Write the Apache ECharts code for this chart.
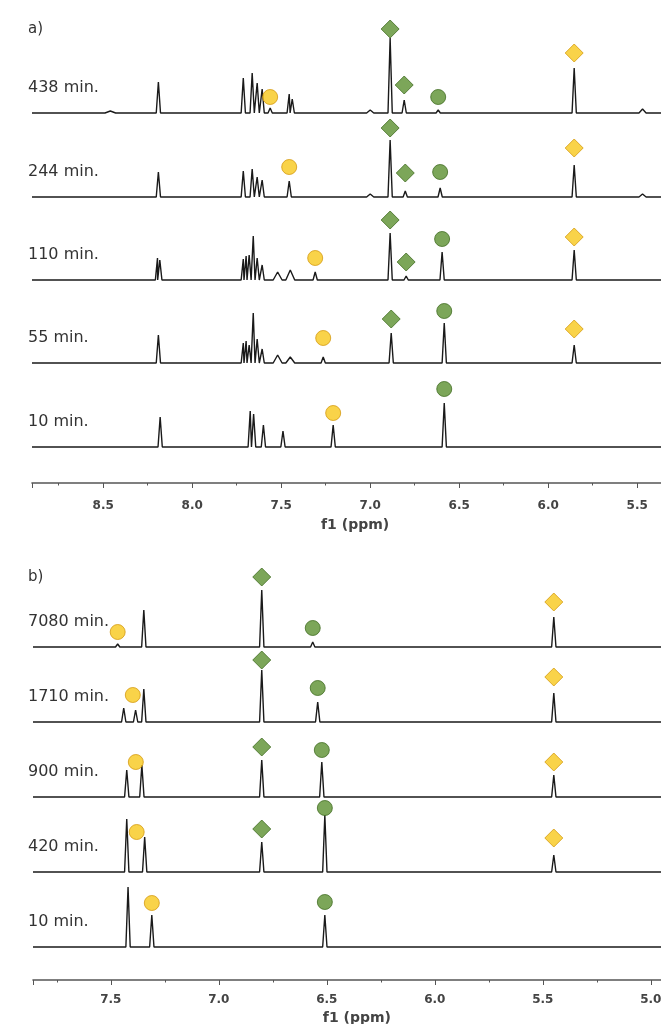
<!DOCTYPE html>
<html>
<head>
<meta charset="utf-8">
<title>1H NMR time series</title>
<script src="https://cdn.jsdelivr.net/npm/echarts@6/dist/echarts.min.js"></script>
<style>
  html, body { margin: 0; padding: 0; background: #ffffff; }
  #chart { width: 661px; height: 1024px; }
</style>
</head>
<body>
<div id="chart"></div>
<script>
// ---------- data ----------
// Peaks: [shift (ppm), intensity, optional half-width (ppm)]
// Markers: [shift (ppm), height above the trace baseline, kind]
//   kind: GD green diamond, GC green circle, YD yellow diamond, YC yellow circle

// Panel a)
const namesA = ['438 min.', '244 min.', '110 min.', '55 min.', '10 min.'];
const peaksA438 = [[8.46, 2, 0.03], [8.19, 31], [7.713, 35], [7.663, 40], [7.635, 30], [7.607, 24], [7.562, 5],
  [7.455, 19], [7.438, 14], [7.0, 3, 0.02], [6.888, 75], [6.809, 13], [6.618, 3], [5.854, 45], [5.47, 4, 0.02]];
const peaksA244 = [[8.19, 25], [7.713, 26], [7.663, 28], [7.635, 20], [7.607, 17], [7.455, 16], [7.0, 3, 0.02],
  [6.888, 57], [6.803, 6], [6.607, 9], [5.854, 32], [5.47, 3, 0.02]];
const peaksA110 = [[8.195, 22], [8.182, 20], [7.713, 21], [7.697, 24], [7.68, 25], [7.657, 44], [7.635, 22],
  [7.607, 15], [7.52, 8, 0.025], [7.449, 10, 0.025], [7.309, 8], [6.888, 47], [6.798, 4], [6.596, 28], [5.854, 30]];
const peaksA55 = [[8.19, 28], [7.713, 20], [7.697, 22], [7.68, 18], [7.657, 50], [7.635, 24], [7.607, 14],
  [7.52, 8, 0.025], [7.449, 6, 0.025], [7.264, 6], [6.882, 30], [6.584, 40], [5.854, 18]];
const peaksA10 = [[8.18, 30], [7.674, 36], [7.655, 33], [7.60, 22], [7.49, 16], [7.208, 22], [6.584, 44]];

const marksA438 = [[6.888, 84, 'GD'], [6.809, 28, 'GD'], [6.618, 16, 'GC'], [7.562, 16, 'YC'], [5.854, 60, 'YD']];
const marksA244 = [[6.888, 69, 'GD'], [6.803, 24, 'GD'], [6.607, 25, 'GC'], [7.455, 30, 'YC'], [5.854, 49, 'YD']];
const marksA110 = [[6.888, 60, 'GD'], [6.798, 18, 'GD'], [6.596, 41, 'GC'], [7.309, 22, 'YC'], [5.854, 43, 'YD']];
const marksA55 = [[6.882, 44, 'GD'], [6.584, 52, 'GC'], [7.264, 25, 'YC'], [5.854, 34, 'YD']];
const marksA10 = [[6.584, 58, 'GC'], [7.208, 34, 'YC']];

// Panel b)
const namesB = ['7080 min.', '1710 min.', '900 min.', '420 min.', '10 min.'];
const peaksB7080 = [[7.468, 3], [7.347, 37], [6.801, 57], [6.565, 5], [5.449, 30]];
const peaksB1710 = [[7.44, 14], [7.385, 12], [7.347, 33], [6.801, 52], [6.542, 20], [5.449, 29]];
const peaksB900 = [[7.426, 27], [7.356, 32], [6.801, 37], [6.523, 35], [5.449, 22]];
const peaksB420 = [[7.426, 53], [7.343, 35], [6.801, 30], [6.509, 57], [5.449, 17]];
const peaksB10 = [[7.42, 60], [7.31, 32], [6.509, 32]];

const marksB7080 = [[7.468, 15, 'YC'], [6.801, 70, 'GD'], [6.565, 19, 'GC'], [5.449, 45, 'YD']];
const marksB1710 = [[7.398, 27, 'YC'], [6.801, 62, 'GD'], [6.542, 34, 'GC'], [5.449, 45, 'YD']];
const marksB900 = [[7.384, 35, 'YC'], [6.801, 50, 'GD'], [6.523, 47, 'GC'], [5.449, 35, 'YD']];
const marksB420 = [[7.38, 40, 'YC'], [6.801, 43, 'GD'], [6.509, 64, 'GC'], [5.449, 34, 'YD']];
const marksB10 = [[7.31, 44, 'YC'], [6.509, 45, 'GC']];

// ---------- styling / layout ----------
const GREEN = '#5b9030', GREEN_EDGE = '#416d22';
const YELLOW = '#f7c81c', YELLOW_EDGE = '#d49a10';
const LINE = '#1a1a1a';
const AXIS = '#555555';

const panels = [
  {
    tag: 'a)', tagY: 29, left: 32, right: -65.2, max: 8.9, min: 5.0,
    baselines: [113, 197, 280, 363, 447], names: namesA,
    peaks: [peaksA438, peaksA244, peaksA110, peaksA55, peaksA10],
    marks: [marksA438, marksA244, marksA110, marksA55, marksA10],
    halfWidth: 0.012, axisOffset: 31, labelMargin: 17, nameGap: 35, namePadRight: 48
  },
  {
    tag: 'b)', tagY: 577, left: 33, right: -97.8, max: 7.86, min: 4.5,
    baselines: [647, 722, 797, 872, 947], names: namesB,
    peaks: [peaksB7080, peaksB1710, peaksB900, peaksB420, peaksB10],
    marks: [marksB7080, marksB1710, marksB900, marksB420, marksB10],
    halfWidth: 0.01, axisOffset: 28, labelMargin: 14, nameGap: 31, namePadRight: 78
  }
];

// Stick spectrum: each peak drawn as a narrow spike on a flat baseline.
function traceLine(peaks, min, max, hw) {
  const pts = [[max, 0], [min, 0]];
  peaks.forEach(p => {
    const w = p[2] || hw;
    pts.push([p[0] + w, 0], [p[0], p[1]], [p[0] - w, 0]);
  });
  pts.sort((a, b) => b[0] - a[0]);
  return pts;
}

function markerItem(m) {
  const green = m[2][0] === 'G';
  const diamond = m[2][1] === 'D';
  return {
    value: [m[0], m[1]],
    symbol: diamond ? 'diamond' : 'circle',
    symbolSize: diamond ? 18 : 15,
    itemStyle: {
      color: green ? GREEN : YELLOW,
      borderColor: green ? GREEN_EDGE : YELLOW_EDGE,
      borderWidth: 1
    }
  };
}

const tickLabel = v => (Math.abs(v * 2 - Math.round(v * 2)) < 1e-6 ? v.toFixed(1) : '');

const grid = [], xAxis = [], yAxis = [], series = [], graphic = [];

panels.forEach(pn => {
  graphic.push({
    type: 'text', x: 28, y: pn.tagY,
    style: { text: pn.tag, font: '15px "DejaVu Sans"', fill: '#333333', verticalAlign: 'middle' }
  });
  pn.baselines.forEach((base, i) => {
    const gi = grid.length;
    grid.push({
      left: pn.left, right: pn.right, top: base - 95, height: 100,
      containLabel: false, outerBoundsMode: 'none'
    });
    yAxis.push({ gridIndex: gi, type: 'value', min: -5, max: 95, show: false });
    const last = i === pn.baselines.length - 1;
    xAxis.push({
      gridIndex: gi, type: 'value', min: pn.min, max: pn.max, inverse: true,
      interval: 0.5, show: last, position: 'bottom', offset: pn.axisOffset,
      name: last ? 'f1 (ppm)' : '', nameLocation: 'middle', nameGap: pn.nameGap,
      nameTextStyle: {
        fontFamily: 'DejaVu Sans', fontWeight: 'bold', fontSize: 14, color: '#444444',
        padding: [0, pn.namePadRight, 0, 0]
      },
      axisLine: { show: true, onZero: false, lineStyle: { color: AXIS, width: 1.6 } },
      axisTick: { show: true, length: 5, lineStyle: { color: AXIS, width: 1 } },
      axisLabel: {
        margin: pn.labelMargin, formatter: tickLabel,
        fontFamily: 'DejaVu Sans', fontWeight: 'bold', fontSize: 12, color: '#444444'
      },
      splitLine: { show: false }
    });
    if (last) {
      // quarter-ppm ticks along the same axis line
      xAxis.push({
        gridIndex: gi, type: 'value', min: pn.min, max: pn.max, inverse: true,
        interval: 0.25, position: 'bottom', offset: pn.axisOffset,
        axisLine: { show: false, onZero: false },
        axisTick: { show: true, length: 2.5, lineStyle: { color: AXIS, width: 1 } },
        axisLabel: { show: false },
        splitLine: { show: false }
      });
    }
    const xi = xAxis.length - (last ? 2 : 1);
    series.push({
      type: 'line', xAxisIndex: xi, yAxisIndex: gi,
      data: traceLine(pn.peaks[i], pn.min, pn.max, pn.halfWidth),
      symbol: 'none', showSymbol: false, clip: false, silent: true, z: 2,
      lineStyle: { color: LINE, width: 1.4 }
    });
    series.push({
      type: 'scatter', xAxisIndex: xi, yAxisIndex: gi, z: 3, silent: true, clip: false,
      data: pn.marks[i].map(markerItem)
    });
    graphic.push({
      type: 'text', x: 28, y: base - 25,
      style: { text: pn.names[i], font: '16px "DejaVu Sans"', fill: '#333333', verticalAlign: 'middle' }
    });
  });
});

const chart = echarts.init(document.getElementById('chart'), null, { renderer: 'canvas' });
chart.setOption({
  backgroundColor: '#ffffff',
  animation: false,
  grid, xAxis, yAxis, series, graphic
});
</script>
</body>
</html>
